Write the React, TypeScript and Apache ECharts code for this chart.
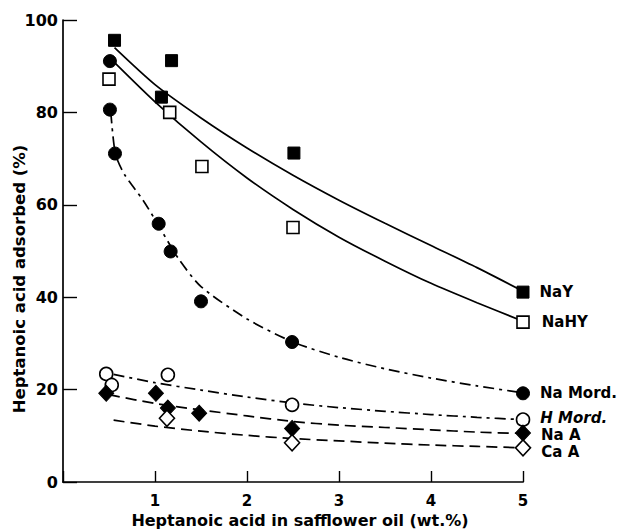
import React, { useEffect, useRef } from "react";
import * as echarts from "echarts";

// Measured points (x = wt.% heptanoic acid in oil, y = % adsorbed)
const naYPoints = [[0.56, 95.6], [1.18, 91.2], [1.07, 83.3], [2.51, 71.2], [5.0, 41.1]];
const naHYPoints = [[0.5, 87.2], [1.16, 80.0], [1.51, 68.3], [2.5, 55.1], [5.0, 34.6]];
const naMordPoints = [[0.51, 91.1], [0.51, 80.6], [0.565, 71.1], [1.04, 55.9], [1.17, 49.9], [1.5, 39.1], [2.49, 30.3], [5.0, 19.2]];
const hMordPoints = [[0.47, 23.4], [0.53, 21.0], [1.14, 23.2], [2.49, 16.7], [5.0, 13.5]];
const naAPoints = [[0.47, 19.2], [1.01, 19.2], [1.14, 16.0], [1.48, 14.9], [2.49, 11.6], [5.0, 10.6]];
const caAPoints = [[1.13, 13.8], [2.49, 8.5], [5.0, 7.4]];

// Fitted curves
const naYCurve = [[0.56, 94.0], [1.0, 86.0], [1.5, 78.8], [2.0, 72.3], [2.5, 66.4], [3.0, 61.0], [3.5, 56.0], [4.0, 51.2], [4.5, 46.4], [5.0, 41.3]];
const naHYCurve = [[0.55, 91.0], [1.0, 82.3], [1.5, 73.6], [2.0, 65.8], [2.5, 59.0], [3.0, 53.0], [3.5, 47.8], [4.0, 43.0], [4.5, 38.8], [5.0, 34.8]];
const naMordCurve = [[0.52, 80.0], [0.57, 71.0], [0.67, 66.5], [0.87, 61.0], [1.03, 55.8], [1.25, 48.5], [1.5, 42.3], [2.0, 35.3], [2.5, 30.3], [3.0, 27.0], [3.5, 24.5], [4.0, 22.5], [4.5, 20.8], [5.0, 19.3]];
const hMordCurve = [[0.55, 23.3], [1.0, 21.5], [1.5, 19.9], [2.0, 18.4], [2.5, 17.1], [3.0, 16.1], [3.5, 15.3], [4.0, 14.6], [4.5, 14.0], [5.0, 13.5]];
const naACurve = [[0.5, 18.9], [1.0, 17.0], [1.5, 15.6], [2.0, 14.3], [2.5, 13.1], [3.0, 12.3], [3.5, 11.8], [4.0, 11.3], [4.5, 10.8], [5.0, 10.5]];
const caACurve = [[0.55, 13.4], [1.0, 12.1], [1.5, 11.0], [2.0, 10.1], [2.5, 9.4], [3.0, 8.9], [3.5, 8.4], [4.0, 8.0], [4.5, 7.7], [5.0, 7.4]];

const seriesNames = ["NaY", "NaHY", "Na Mord.", "H Mord.", "Na A", "Ca A"];
const xAxisTitle = "Heptanoic acid in safflower oil (wt.%)";
const yAxisTitle = "Heptanoic acid adsorbed (%)";

const INK = "#000";
const FONT = "DejaVu Sans";

export default function App() {
  const ref = useRef<HTMLDivElement>(null);

  useEffect(() => {
    if (!ref.current) return;
    const chart = echarts.init(ref.current, undefined, { renderer: "svg" });

    const curve = (data: number[][], dash: any) => ({
      type: "line",
      data,
      smooth: 0.25,
      symbol: "none",
      silent: true,
      z: 2,
      lineStyle: { color: INK, width: 1.7, type: dash, opacity: 1 },
    });

    const points = (
      data: number[][],
      name: string,
      symbol: string,
      size: any,
      filled: boolean,
      labelExtra: any = {}
    ) => ({
      type: "scatter",
      name,
      symbol,
      symbolSize: size,
      z: 3,
      silent: true,
      itemStyle: filled
        ? { color: INK, borderColor: INK, borderWidth: 1, opacity: 1 }
        : { color: "#fff", borderColor: INK, borderWidth: 1.6, opacity: 1 },
      data: data.map((p, i) =>
        i === data.length - 1
          ? {
              value: p,
              label: {
                show: true,
                position: "right",
                distance: 10,
                formatter: name,
                color: INK,
                fontFamily: FONT,
                fontWeight: "bold",
                fontSize: 15,
                ...labelExtra,
              },
            }
          : { value: p }
      ),
    });

    const dashDot = [11, 5, 3, 5];
    const dashed = [11, 6];

    chart.setOption({
      animation: false,
      backgroundColor: "#fff",
      grid: { left: 63, right: 100, top: 20, bottom: 50, containLabel: false },
      xAxis: {
        type: "value",
        min: 0,
        max: 5,
        interval: 1,
        splitLine: { show: false },
        axisLine: { lineStyle: { color: INK, width: 1.7 } },
        axisTick: { inside: true, length: 11, lineStyle: { color: INK, width: 1.4 } },
        axisLabel: {
          margin: 11,
          color: INK,
          fontFamily: FONT,
          fontWeight: "bold",
          fontSize: 15,
          formatter: (v: number) => (v === 0 ? "" : String(v)),
        },
      },
      yAxis: {
        type: "value",
        min: 0,
        max: 100,
        interval: 20,
        splitLine: { show: false },
        axisLine: { show: true, lineStyle: { color: INK, width: 1.7 } },
        axisTick: { show: true, inside: true, length: 14, lineStyle: { color: INK, width: 1.4 } },
        axisLabel: {
          margin: 5,
          color: INK,
          fontFamily: FONT,
          fontWeight: "bold",
          fontSize: 16,
        },
      },
      graphic: [
        {
          type: "text",
          x: 300,
          y: 520,
          style: {
            text: xAxisTitle,
            fill: INK,
            font: `bold 16px "${FONT}"`,
            textAlign: "center",
            textVerticalAlign: "middle",
          },
        },
        {
          type: "text",
          x: 19,
          y: 279,
          rotation: Math.PI / 2,
          style: {
            text: yAxisTitle,
            fill: INK,
            font: `bold 16.5px "${FONT}"`,
            textAlign: "center",
            textVerticalAlign: "middle",
          },
        },
      ],
      series: [
        curve(naYCurve, "solid"),
        curve(naHYCurve, "solid"),
        curve(naMordCurve, dashDot),
        curve(hMordCurve, dashDot),
        curve(naACurve, dashed),
        curve(caACurve, dashed),
        points(naYPoints, seriesNames[0], "rect", 12, true),
        points(naHYPoints, seriesNames[1], "rect", 12, false, { distance: 12 }),
        points(naMordPoints, seriesNames[2], "circle", 13, true),
        points(hMordPoints, seriesNames[3], "circle", 13, false, { fontStyle: "italic", offset: [0, -2] }),
        points(naAPoints, seriesNames[4], "diamond", [15, 16], true, { offset: [0, 2] }),
        points(caAPoints, seriesNames[5], "diamond", [15, 16], false, { offset: [0, 4] }),
      ],
    });

    return () => chart.dispose();
  }, []);

  return (
    <div
      ref={ref}
      style={{ position: "fixed", left: 0, top: 0, width: 623, height: 532, background: "#fff" }}
    />
  );
}
